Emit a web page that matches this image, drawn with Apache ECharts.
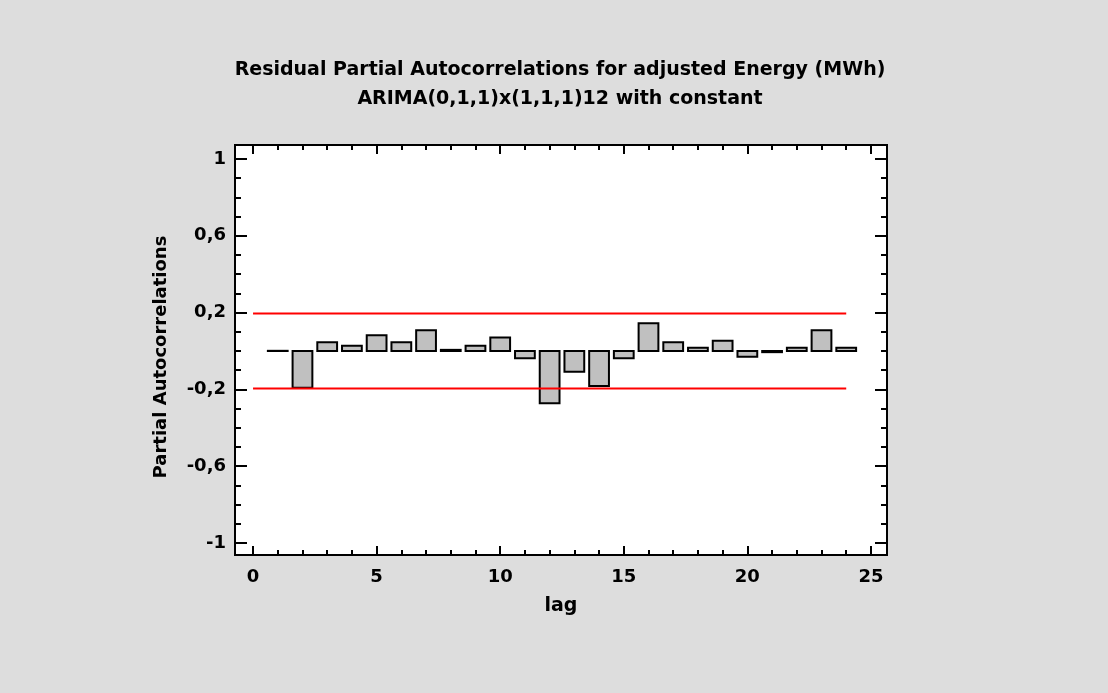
<!DOCTYPE html>
<html>
<head>
<meta charset="utf-8">
<script src="https://cdn.jsdelivr.net/npm/echarts@6/dist/echarts.min.js"></script>
<style>
html,body{margin:0;padding:0;background:#dddddd;}
#chart{width:1108px;height:693px;}
</style>
</head>
<body>
<div id="chart"></div>
<script>
// ---- data ----
const titleLines = ['Residual Partial Autocorrelations for adjusted Energy (MWh)', 'ARIMA(0,1,1)x(1,1,1)12 with constant'];
const xAxisName = 'lag';
const yAxisName = 'Partial Autocorrelations';
const lags = [1,2,3,4,5,6,7,8,9,10,11,12,13,14,15,16,17,18,19,20,21,22,23,24];
const pacf = [0.001,-0.191,0.045,0.028,0.082,0.045,0.108,0.006,0.028,0.071,-0.038,-0.272,
              -0.108,-0.182,-0.038,0.144,0.045,0.017,0.054,-0.030,-0.006,0.017,0.108,0.017];
const limitUpper = 0.195;
const limitLower = -0.195;
const limitLagRange = [0, 24];
const xTickValues = [0,5,10,15,20,25];
const xTickLabels = ['0','5','10','15','20','25'];
const xMinorTicks = [1,2,3,4,6,7,8,9,11,12,13,14,16,17,18,19,21,22,23,24];
const yTickValues = [-1,-0.6,-0.2,0.2,0.6,1];
const yTickLabels = ['-1','-0,6','-0,2','0,2','0,6','1'];
const yMinorTicks = [-0.9,-0.8,-0.7,-0.5,-0.4,-0.3,-0.1,0,0.1,0.3,0.4,0.5,0.7,0.8,0.9];

// ---- chart ----
const FONT = '"DejaVu Sans", sans-serif';
const X_MIN = -0.73, X_MAX = 25.65, Y_MIN = -1.0625, Y_MAX = 1.073;
const chart = echarts.init(document.getElementById('chart'), null, {renderer: 'canvas'});

function labelFor(values, labels) {
  return function (v) {
    for (let i = 0; i < values.length; i++) {
      if (Math.abs(values[i] - v) < 1e-9) return labels[i];
    }
    return '';
  };
}

const tickStyle = {color: '#000', width: 2};
function xAxisDef(position, ticks, len, withLabels) {
  return {
    type: 'value', position: position, min: X_MIN, max: X_MAX, gridIndex: 0,
    axisLine: {show: false, onZero: false},
    splitLine: {show: false},
    axisTick: {show: true, inside: true, length: len, customValues: ticks, lineStyle: tickStyle},
    axisLabel: withLabels ? {
      show: true, customValues: ticks, margin: 13, color: '#000',
      fontFamily: FONT, fontWeight: 'bold', fontSize: 18,
      formatter: labelFor(xTickValues, xTickLabels)
    } : {show: false}
  };
}
function yAxisDef(position, ticks, len, withLabels) {
  return {
    type: 'value', position: position, min: Y_MIN, max: Y_MAX, gridIndex: 0,
    axisLine: {show: false, onZero: false},
    splitLine: {show: false},
    axisTick: {show: true, inside: true, length: len, customValues: ticks, lineStyle: tickStyle},
    axisLabel: withLabels ? {
      show: true, customValues: ticks, margin: 9, color: '#000',
      fontFamily: FONT, fontWeight: 'bold', fontSize: 18,
      formatter: labelFor(yTickValues, yTickLabels)
    } : {show: false}
  };
}

const xBase = xAxisDef('bottom', xTickValues, 9, true);
xBase.name = xAxisName;
xBase.nameLocation = 'middle';
xBase.nameGap = 42;
xBase.nameTextStyle = {fontFamily: FONT, fontWeight: 'bold', fontSize: 19, color: '#000'};

const option = {
  animation: false,
  backgroundColor: '#dddddd',
  graphic: [
    {type: 'text', x: 560, y: 70, style: {text: titleLines[0], textAlign: 'center', textVerticalAlign: 'middle',
      font: 'bold 19px "DejaVu Sans", sans-serif', fill: '#000'}},
    {type: 'text', x: 560, y: 99, style: {text: titleLines[1], textAlign: 'center', textVerticalAlign: 'middle',
      font: 'bold 19px "DejaVu Sans", sans-serif', fill: '#000'}},
    {type: 'text', x: 161, y: 357, rotation: Math.PI / 2,
      style: {text: yAxisName, textAlign: 'center', textVerticalAlign: 'middle',
      font: 'bold 18px "DejaVu Sans", sans-serif', fill: '#000'}}
  ],
  grid: [{left: 235, top: 145, width: 652, height: 410, show: true,
    backgroundColor: '#ffffff', borderColor: '#000', borderWidth: 2}],
  xAxis: [
    xBase,
    xAxisDef('bottom', xMinorTicks, 5, false),
    xAxisDef('top', xTickValues, 9, false),
    xAxisDef('top', xMinorTicks, 5, false)
  ],
  yAxis: [
    yAxisDef('left', yTickValues, 12, true),
    yAxisDef('left', yMinorTicks, 6, false),
    yAxisDef('right', yTickValues, 12, false),
    yAxisDef('right', yMinorTicks, 6, false)
  ],
  series: [
    {
      type: 'custom', xAxisIndex: 0, yAxisIndex: 0,
      data: lags.map((l, i) => [l, pacf[i]]),
      renderItem: function (params, api) {
        const x = api.value(0), v = api.value(1);
        const a = api.coord([x - 0.4, v]);
        const b = api.coord([x + 0.4, 0]);
        return {
          type: 'rect',
          shape: {x: a[0], y: Math.min(a[1], b[1]), width: b[0] - a[0], height: Math.abs(b[1] - a[1])},
          style: {fill: '#c0c0c0', stroke: '#000', lineWidth: 2}
        };
      },
      z: 3
    },
    {
      type: 'line', xAxisIndex: 0, yAxisIndex: 0, symbol: 'none', silent: true,
      data: [[limitLagRange[0], limitUpper], [limitLagRange[1], limitUpper]],
      lineStyle: {color: '#ff0000', width: 2}, z: 4
    },
    {
      type: 'line', xAxisIndex: 0, yAxisIndex: 0, symbol: 'none', silent: true,
      data: [[limitLagRange[0], limitLower], [limitLagRange[1], limitLower]],
      lineStyle: {color: '#ff0000', width: 2}, z: 4
    }
  ]
};
chart.setOption(option);
</script>
</body>
</html>
